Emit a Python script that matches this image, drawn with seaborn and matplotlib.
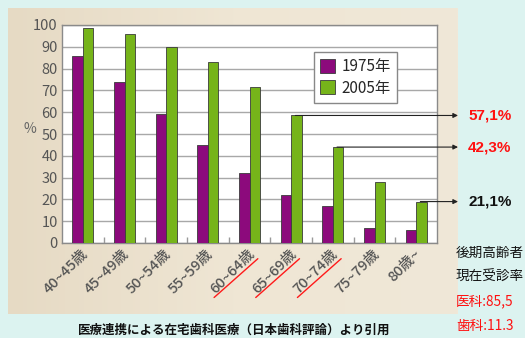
import numpy as np
import pandas as pd
import matplotlib
matplotlib.use("Agg")
import matplotlib.pyplot as plt
import matplotlib.transforms as mtransforms
from matplotlib.colors import LinearSegmentedColormap
import seaborn as sns

# ---- data ----
categories = ["40~45歳", "45~49歳", "50~54歳", "55~59歳", "60~64歳",
              "65~69歳", "70~74歳", "75~79歳", "80歳~"]
series_names = ["1975年", "2005年"]
values_1975 = [86, 74, 59, 45, 32, 22, 17, 7, 6]
values_2005 = [98.5, 96, 90, 83, 71.5, 58.5, 44, 28, 19]
y_ticks = [0, 10, 20, 30, 40, 50, 60, 70, 80, 90, 100]
callout_categories = ["65~69歳", "70~74歳", "80歳~"]
callout_texts = ["57,1%", "42,3%", "21,1%"]
callout_colors = ["#ff1010", "#ff1010", "#111111"]
underlined_categories = ["60~64歳", "65~69歳", "70~74歳"]
side_lines = ["後期高齢者", "現在受診率", "医科:85,5", "歯科:11.3"]
side_colors = ["#111111", "#111111", "#ff1010", "#ff1010"]
caption = "医療連携による在宅歯科医療（日本歯科評論）より引用"

df = pd.DataFrame({
    "age": categories * 2,
    "rate": values_1975 + values_2005,
    "year": [series_names[0]] * len(categories) + [series_names[1]] * len(categories),
})

sns.set_theme(style="white")
plt.rcParams["font.family"] = ["Noto Sans CJK JP", "DejaVu Sans"]

W, H = 525, 338
fig = plt.figure(figsize=(W / 100, H / 100), dpi=100, facecolor="#dcf3f0")

# beige panel behind the chart (background axes)
bg = fig.add_axes([8 / W, 1 - 314 / H, (458 - 8) / W, (314 - 8) / H], zorder=0)
grad = np.linspace(0, 1, 256)[None, :]
cm = LinearSegmentedColormap.from_list("beige", ["#e6dac4", "#efe6d4", "#f0e8d8"])
bg.imshow(grad, aspect="auto", cmap=cm, extent=[0, 1, 0, 1])
bg.set_axis_off()

ax = fig.add_axes([62 / W, 1 - 243 / H, (437 - 62) / W, (243 - 25) / H], zorder=2)
ax.set_facecolor("white")

sns.barplot(data=df, x="age", y="rate", hue="year", order=categories,
            hue_order=series_names, palette=["#8c0a7c", "#76b41a"],
            width=0.5, edgecolor="#3a3a3a", linewidth=0.6, ax=ax, zorder=3,
            saturation=1)

ax.set_ylim(0, 100)
ax.set_xlim(-0.5, len(categories) - 0.5)
ax.set_yticks(y_ticks)
ax.yaxis.grid(True, color="#a8a8a8", linewidth=1.0, zorder=0)
ax.set_axisbelow(True)
for s in ax.spines.values():
    s.set_color("#8a8a8a")
    s.set_linewidth(1.0)

ax.tick_params(axis="y", labelsize=10.5, labelcolor="#555555", length=0, pad=3)
ax.tick_params(axis="x", labelsize=10.5, labelcolor="#555555", length=0, pad=2)
ax.set_xticks(range(len(categories)))
ax.set_xticklabels(categories, rotation=45, ha="right", va="top",
                   rotation_mode="anchor", fontweight="medium")
for lbl in ax.get_xticklabels():
    lbl.set_transform(lbl.get_transform() + mtransforms.ScaledTranslation(-1.5 / 72, -0.5 / 72, fig.dpi_scale_trans))
ax.set_xticks(np.arange(0.5, len(categories) - 0.5, 1.0), minor=True)
ax.tick_params(axis="x", which="minor", direction="in", length=4, color="#999999", bottom=True)

ax.set_xlabel("")
ax.set_ylabel("%", rotation=0, fontsize=10, color="#666666")
ax.yaxis.set_label_coords(-0.085, 0.49)

ax.legend(loc="upper left", bbox_to_anchor=(0.672, 0.877), fontsize=11,
          frameon=True, fancybox=False, edgecolor="#888888", framealpha=1,
          handlelength=1.0, handleheight=1.0, handletextpad=0.4,
          borderpad=0.4, labelspacing=0.3, borderaxespad=0)

# callout arrows from 2005 bars
bt = mtransforms.blended_transform_factory(ax.transAxes, ax.transData)
for cat, txt, col in zip(callout_categories, callout_texts, callout_colors):
    i = categories.index(cat)
    v = values_2005[i]
    ax.annotate("", xy=(1.056, v), xycoords=bt, xytext=(i + 0.1, v),
                textcoords="data",
                arrowprops=dict(arrowstyle="-|>", color="#222222", lw=0.8,
                                mutation_scale=7, shrinkA=0, shrinkB=0),
                annotation_clip=False, zorder=5)
    ax.annotate(txt, xy=(1.083, v), xycoords=bt, fontsize=11,
                fontweight="bold", color=col, ha="left", va="center",
                annotation_clip=False, family=["Liberation Sans", "DejaVu Sans"])

# red underline strokes under rotated labels
lt = mtransforms.blended_transform_factory(ax.transData, ax.transAxes)
for cat in underlined_categories:
    i = categories.index(cat)
    ax.plot([i - 0.85, i + 0.2], [-0.25, -0.072], transform=lt, color="#ff1a1a",
            lw=1.0, clip_on=False, zorder=6)

# right side text
for k, (t, c) in enumerate(zip(side_lines, side_colors)):
    fig.text(456 / W, 1 - (253 + k * 24.3) / H, t, fontsize=9.8, color=c,
             ha="left", va="center")

fig.text(234 / W, 1 - 330 / H, caption, fontsize=9, fontweight="bold",
         color="#111111", ha="center", va="center")

fig.savefig("out.png", dpi=100, facecolor=fig.get_facecolor())
